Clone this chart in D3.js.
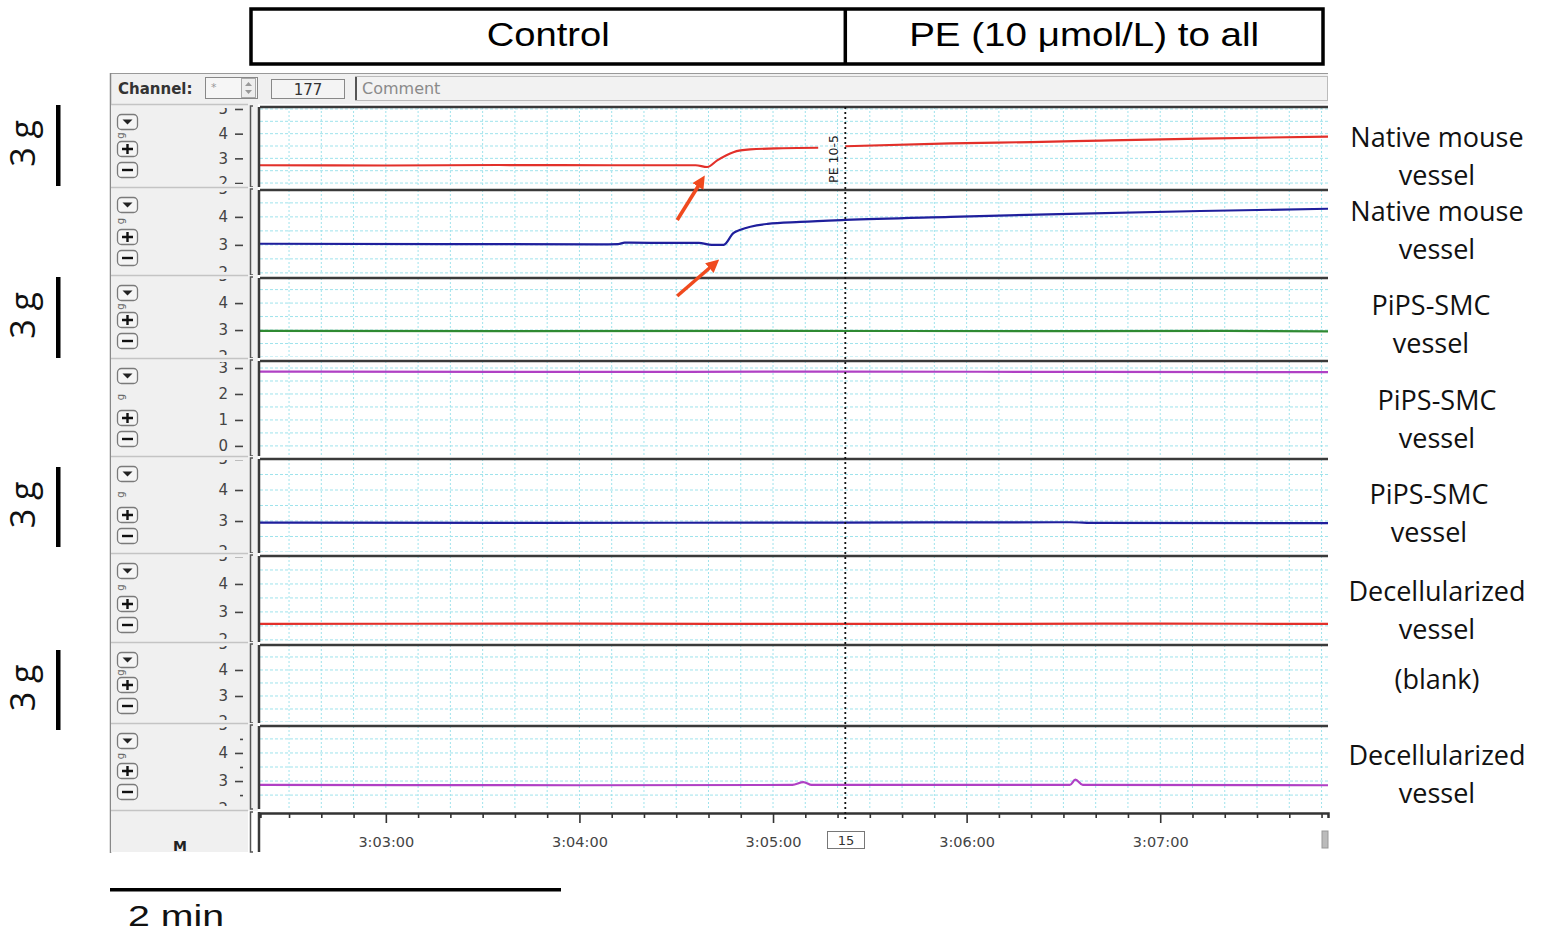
<!DOCTYPE html>
<html>
<head>
<meta charset="utf-8">
<script src="https://cdn.jsdelivr.net/npm/d3@7"></script>
<style>
  body { margin: 0; background: #fff; }
  svg { display: block; }
</style>
</head>
<body>
<svg id="chart" width="1546" height="932"></svg>
<script>
// time in seconds after 3:00:00
const timeDomain = [141, 472];
const timeMajor = [180, 240, 300, 360, 420];
const timeLabels = ["3:03:00", "3:04:00", "3:05:00", "3:06:00", "3:07:00"];
const peTime = 322.4;
const phaseLabels = ["Control", "PE (10 μmol/L) to all"];

const channelNames = [
  ["Native mouse", "vessel"], ["Native mouse", "vessel"], ["PiPS-SMC", "vessel"], ["PiPS-SMC", "vessel"],
  ["PiPS-SMC", "vessel"], ["Decellularized", "vessel"], ["(blank)"], ["Decellularized", "vessel"]
];
const channelColors = ["#e2302a", "#1f1f9c", "#2f8a32", "#b040c4", "#1f1f9c", "#e2302a", "#e2302a", "#b040c4"];
const channelDomains = [[1.88, 5.08], [1.96, 4.96], [2.0, 4.93], [-0.35, 3.27], [2.0, 5.0], [1.96, 5.0], [2.0, 4.96], [2.04, 4.96]];
const channelTicks = [[2, 3, 4, 5], [2, 3, 4, 5], [2, 3, 4, 5], [0, 1, 2, 3], [2, 3, 4, 5], [2, 3, 4, 5], [2, 3, 4, 5], [2, 3, 4, 5]];

const trace1 = [[141, 2.72], [180, 2.71], [215, 2.73], [250, 2.72], [276, 2.72], [279.6, 2.65], [282.7, 2.92], [287.7, 3.25],
  [292.9, 3.36], [303, 3.41], [314, 3.43], [318, NaN], [322.4, 3.49], [355, 3.61], [380, 3.66], [401.5, 3.72], [432.5, 3.8], [472, 3.88]];
const trace2 = [[141, 3.04], [200, 3.03], [246, 3.02], [252, 3.03], [254, 3.08], [270, 3.07], [277, 3.07], [281, 3.0], [284.7, 3.0],
  [287.7, 3.42], [289.9, 3.54], [298.3, 3.75], [308.4, 3.82], [322.4, 3.89], [355, 4.0], [392, 4.11], [432.5, 4.21], [472, 4.29]];
const trace3 = [[141, 2.97], [220, 2.96], [300, 2.97], [380, 2.96], [440, 2.97], [472, 2.95]];
const trace4 = [[141, 2.86], [230, 2.85], [320, 2.86], [400, 2.85], [472, 2.84]];
const trace5 = [[141, 2.95], [230, 2.94], [320, 2.95], [392, 2.96], [400, 2.94], [472, 2.93]];
const trace6 = [[141, 2.57], [240, 2.58], [330, 2.57], [420, 2.58], [472, 2.57]];
const trace7 = [];
const trace8 = [[141, 2.86], [240, 2.85], [306, 2.86], [309.4, 2.96], [312, 2.86], [392, 2.86], [393.7, 3.05], [396, 2.86], [472, 2.85]];
const traces = [trace1, trace2, trace3, trace4, trace5, trace6, trace7, trace8];

// layout (pixel bands of the recorder window)
const panelTop = [107, 190, 278, 361, 459, 556, 645, 726];
const panelBottom = [186, 274, 357, 455, 552, 641, 722, 808];
const labelBase = [147, 221, 315, 410, 504, 601, 689, 765];
const labelX = [1437, 1437, 1431, 1437, 1429, 1437, 1437, 1437];
const plotLeft = 260, plotRight = 1328;

const svg = d3.select("#chart");
const defs = svg.append("defs");
const x = d3.scaleLinear().domain(timeDomain).range([plotLeft, plotRight]);
const px = x(peTime);

// header boxes
svg.append("rect").attr("x", 251).attr("y", 9).attr("width", 1072).attr("height", 55)
  .attr("fill", "#fff").attr("stroke", "#000").attr("stroke-width", 3.5);
svg.append("line").attr("x1", px).attr("x2", px).attr("y1", 9).attr("y2", 64)
  .attr("stroke", "#000").attr("stroke-width", 3.5);
svg.append("text").attr("x", (251 + px) / 2).attr("y", 46).attr("text-anchor", "middle")
  .attr("font-family", "Liberation Sans, Arial, sans-serif").attr("font-size", 33)
  .attr("textLength", 123).attr("lengthAdjust", "spacingAndGlyphs").text(phaseLabels[0]);
svg.append("text").attr("x", (px + 1323) / 2).attr("y", 46).attr("text-anchor", "middle")
  .attr("font-family", "Liberation Sans, Arial, sans-serif").attr("font-size", 33)
  .attr("textLength", 350).attr("lengthAdjust", "spacingAndGlyphs").text(phaseLabels[1]);

// recorder window frame
const win = svg.append("g");
win.append("rect").attr("x", 110).attr("y", 73).attr("width", plotRight - 110).attr("height", 780).attr("fill", "#fff");
win.append("rect").attr("x", 110).attr("y", 73).attr("width", plotRight - 110).attr("height", 31).attr("fill", "#f0f0f0");
win.append("line").attr("x1", 110).attr("x2", plotRight).attr("y1", 73.5).attr("y2", 73.5).attr("stroke", "#999");
win.append("line").attr("x1", 110.5).attr("x2", 110.5).attr("y1", 73).attr("y2", 853).attr("stroke", "#888").attr("stroke-width", 1.5);

const sw = "DejaVu Sans, Verdana, sans-serif";
win.append("text").attr("x", 118).attr("y", 94).attr("font-family", sw).attr("font-size", 15)
  .attr("font-weight", "bold").attr("fill", "#333").text("Channel:");
win.append("rect").attr("x", 205.5).attr("y", 77.5).attr("width", 52).attr("height", 21).attr("fill", "#f6f6f6").attr("stroke", "#888");
win.append("text").attr("x", 211).attr("y", 91).attr("font-family", sw).attr("font-size", 11).attr("fill", "#999").text("*");
win.append("rect").attr("x", 241.5).attr("y", 78.5).attr("width", 14).attr("height", 19).attr("fill", "#eee").attr("stroke", "#aaa");
win.append("path").attr("d", "M245,86 L248.5,82 L252,86 Z M245,90 L248.5,94 L252,90 Z").attr("fill", "#999");
win.append("rect").attr("x", 271.5).attr("y", 79.5).attr("width", 73).attr("height", 19).attr("fill", "#f4f4f4").attr("stroke", "#888");
win.append("text").attr("x", 308).attr("y", 95).attr("text-anchor", "middle").attr("font-family", sw).attr("font-size", 15)
  .attr("fill", "#333").text("177");
win.append("rect").attr("x", 355.5).attr("y", 76.5).attr("width", plotRight - 356).attr("height", 24).attr("fill", "#f2f2f2").attr("stroke", "#bbb");
win.append("line").attr("x1", 356).attr("x2", 356).attr("y1", 77).attr("y2", 100).attr("stroke", "#555").attr("stroke-width", 2);
win.append("text").attr("x", 362).attr("y", 94).attr("font-family", sw).attr("font-size", 16).attr("fill", "#8a8a8a").text("Comment");

function button(g, cy, kind) {
  const b = g.append("g").attr("transform", `translate(117,${cy - 8})`);
  b.append("rect").attr("x", 0.5).attr("y", 0.5).attr("width", 20).attr("height", 15).attr("rx", 4)
    .attr("fill", "#f5f5f5").attr("stroke", "#7a7a7a").attr("stroke-width", 1.3);
  if (kind === "down") b.append("path").attr("d", "M5.5,5.5 L15.5,5.5 L10.5,10.5 Z").attr("fill", "#222");
  if (kind === "plus") b.append("path").attr("d", "M5,8 H16 M10.5,3 V13").attr("stroke", "#111").attr("stroke-width", 2.4);
  if (kind === "minus") b.append("path").attr("d", "M5,8 H16").attr("stroke", "#111").attr("stroke-width", 2.4);
}

const fmt = d3.format("d");
channelDomains.forEach((dom, i) => {
  const top = panelTop[i], bottom = panelBottom[i];
  const y = d3.scaleLinear().domain(dom).range([bottom, top]);
  const g = svg.append("g");

  // side strip
  g.append("rect").attr("x", 111).attr("y", top - 3).attr("width", plotLeft - 113).attr("height", bottom - top + 6).attr("fill", "#f0f0f0");
  g.append("line").attr("x1", 111).attr("x2", 248).attr("y1", top - 2.5).attr("y2", top - 2.5).attr("stroke", "#c4c4c4").attr("stroke-width", 1.5);
  button(g, top + 15, "down");
  button(g, bottom - 37, "plus");
  button(g, bottom - 16, "minus");
  g.append("text").attr("transform", `translate(124,${(top + 15 + bottom - 37) / 2}) rotate(-90)`)
    .attr("text-anchor", "middle").attr("font-family", sw).attr("font-size", 10).attr("fill", "#666").text("g");

  // value axis, clipped to the strip height (edge labels are cut like in the recorder)
  defs.append("clipPath").attr("id", "side" + i).append("rect")
    .attr("x", 190).attr("y", top + 1).attr("width", 60).attr("height", bottom - top - 3);
  const ax = g.append("g").attr("clip-path", `url(#side${i})`);
  const minor = d3.range(Math.ceil(dom[0] * 2) / 2, dom[1], 1).filter(v => v % 1 !== 0);
  ax.append("g").attr("transform", "translate(243,0)")
    .call(d3.axisLeft(y).tickValues(channelTicks[i]).tickSize(8).tickPadding(7).tickFormat(fmt))
    .call(a => a.select(".domain").remove())
    .call(a => a.selectAll("line").attr("stroke", "#444").attr("stroke-width", 1.6))
    .call(a => a.selectAll("text").attr("font-family", sw).attr("font-size", 15).attr("fill", "#444"));
  ax.append("g").attr("transform", "translate(243,0)")
    .call(d3.axisLeft(y).tickValues(minor).tickSize(3).tickFormat(""))
    .call(a => a.select(".domain").remove())
    .call(a => a.selectAll("line").attr("stroke", "#444").attr("stroke-width", 1.6));

  g.append("path").attr("d", `M253,${top - 1} H250.5 V${bottom + 1} H253`).attr("fill", "none").attr("stroke", "#555").attr("stroke-width", 1.5);

  // plot area
  g.append("rect").attr("x", plotLeft).attr("y", top).attr("width", plotRight - plotLeft).attr("height", bottom - top).attr("fill", "#fff");
  defs.append("clipPath").attr("id", "plot" + i).append("rect")
    .attr("x", plotLeft).attr("y", top).attr("width", plotRight - plotLeft).attr("height", bottom - top);
  const p = g.append("g").attr("clip-path", `url(#plot${i})`);
  const gridV = d3.range(150, timeDomain[1], 10);
  p.selectAll(".gv").data(gridV).join("line")
    .attr("x1", d => x(d)).attr("x2", d => x(d)).attr("y1", top).attr("y2", bottom)
    .attr("stroke", "#9fe3ec").attr("stroke-width", 1).attr("stroke-dasharray", "2,2");
  const gridH = d3.range(Math.ceil(dom[0] * 2) / 2, dom[1], 0.5);
  p.selectAll(".gh").data(gridH).join("line")
    .attr("x1", plotLeft).attr("x2", plotRight).attr("y1", d => y(d)).attr("y2", d => y(d))
    .attr("stroke", "#9fe3ec").attr("stroke-width", 1).attr("stroke-dasharray", "3,2");

  if (traces[i].length) {
    const line = d3.line().defined(d => !isNaN(d[1])).x(d => x(d[0])).y(d => y(d[1])).curve(d3.curveMonotoneX);
    p.append("path").datum(traces[i]).attr("d", line).attr("fill", "none")
      .attr("stroke", channelColors[i]).attr("stroke-width", 2.2);
  }

  g.append("line").attr("x1", plotLeft).attr("x2", plotRight).attr("y1", top).attr("y2", top).attr("stroke", "#3a3a3a").attr("stroke-width", 2.5);
  g.append("line").attr("x1", plotLeft - 1).attr("x2", plotLeft - 1).attr("y1", top).attr("y2", bottom + 1).attr("stroke", "#3a3a3a").attr("stroke-width", 2.5);

  // right-hand labels
  channelNames[i].forEach((t, k) => {
    svg.append("text").attr("x", labelX[i]).attr("y", labelBase[i] + k * 38)
      .attr("text-anchor", "middle").attr("font-family", "Open Sans, sans-serif").attr("font-size", 27)
      .attr("fill", "#111").text(t);
  });
});

// time axis row
const axisTop = 812, axisBottom = 852;
svg.append("rect").attr("x", 111).attr("y", axisTop - 2).attr("width", 137).attr("height", axisBottom - axisTop + 2).attr("fill", "#f0f0f0");
svg.append("line").attr("x1", 111).attr("x2", 248).attr("y1", axisTop - 1.5).attr("y2", axisTop - 1.5).attr("stroke", "#c4c4c4").attr("stroke-width", 1.5);
svg.append("text").attr("x", 180).attr("y", 851).attr("text-anchor", "middle").attr("font-family", sw)
  .attr("font-size", 14).attr("font-weight", "bold").attr("fill", "#222").text("M");
svg.append("path").attr("d", `M253,${axisTop} H250.5 V${axisBottom} H253`).attr("fill", "none").attr("stroke", "#555").attr("stroke-width", 1.5);
svg.append("line").attr("x1", plotLeft - 1).attr("x2", plotLeft - 1).attr("y1", axisTop).attr("y2", axisBottom).attr("stroke", "#3a3a3a").attr("stroke-width", 2.5);

svg.append("g").attr("transform", "translate(0,813)")
  .call(d3.axisBottom(x).tickValues(d3.range(150, timeDomain[1], 10).filter(d => d % 60 !== 0)).tickSize(5).tickFormat(""))
  .call(a => a.select(".domain").attr("stroke", "#333").attr("stroke-width", 2.5))
  .call(a => a.selectAll(".tick line").attr("stroke", "#333").attr("stroke-width", 1.6));
svg.append("g").attr("transform", "translate(0,813)")
  .call(d3.axisBottom(x).tickValues(timeMajor).tickSize(10).tickPadding(14).tickFormat((d, i) => timeLabels[i]))
  .call(a => a.select(".domain").remove())
  .call(a => a.selectAll(".tick line").attr("stroke", "#333").attr("stroke-width", 1.6))
  .call(a => a.selectAll("text").attr("font-family", sw).attr("font-size", 14.5).attr("fill", "#444"));

svg.append("rect").attr("x", 827.5).attr("y", 831.5).attr("width", 37).attr("height", 17).attr("fill", "#fff").attr("stroke", "#777");
svg.append("text").attr("x", 846).attr("y", 845).attr("text-anchor", "middle").attr("font-family", sw).attr("font-size", 13).attr("fill", "#333").text("15");
svg.append("rect").attr("x", 1322).attr("y", 831).attr("width", 6).attr("height", 17).attr("fill", "#bbb").attr("stroke", "#999");

// PE marker
svg.append("line").attr("x1", px).attr("x2", px).attr("y1", panelTop[0]).attr("y2", 820)
  .attr("stroke", "#111").attr("stroke-width", 1.8).attr("stroke-dasharray", "2,3");
svg.append("text").attr("transform", `translate(838,159) rotate(-90)`).attr("text-anchor", "middle")
  .attr("font-family", sw).attr("font-size", 12.5).attr("fill", "#222").text("PE 10-5");

// red arrows
const arrows = [[270.3, 220, 278, 180], [270.3, 296, 282.1, 263]];
defs.append("marker").attr("id", "head").attr("viewBox", "0 0 10 10").attr("refX", 6).attr("refY", 5)
  .attr("markerWidth", 3.6).attr("markerHeight", 3.6).attr("orient", "auto")
  .append("path").attr("d", "M0,0 L10,5 L0,10 Z").attr("fill", "#f04a1e");
svg.selectAll(".arrow").data(arrows).join("line")
  .attr("x1", d => x(d[0])).attr("y1", d => d[1]).attr("x2", d => x(d[2])).attr("y2", d => d[3])
  .attr("stroke", "#f04a1e").attr("stroke-width", 3.6).attr("marker-end", "url(#head)");

// force scale bars on the left
const gBars = [[105, 186], [277, 358], [467, 547], [650, 730]];
gBars.forEach(b => {
  svg.append("rect").attr("x", 56).attr("y", b[0]).attr("width", 4.5).attr("height", b[1] - b[0]).attr("fill", "#000");
  svg.append("text").attr("transform", `translate(35,${(b[0] + b[1]) / 2 - 2}) rotate(-90)`).attr("text-anchor", "middle")
    .attr("font-family", "Open Sans, sans-serif").attr("font-size", 34).attr("fill", "#111").text("3 g");
});

// time scale bar
svg.append("rect").attr("x", 110).attr("y", 888).attr("width", 451).attr("height", 3.5).attr("fill", "#000");
svg.append("text").attr("x", 128).attr("y", 926).attr("font-family", "Liberation Sans, Arial, sans-serif").attr("font-size", 29)
  .attr("textLength", 96).attr("lengthAdjust", "spacingAndGlyphs").attr("fill", "#111").text("2 min");
</script>
</body>
</html>
